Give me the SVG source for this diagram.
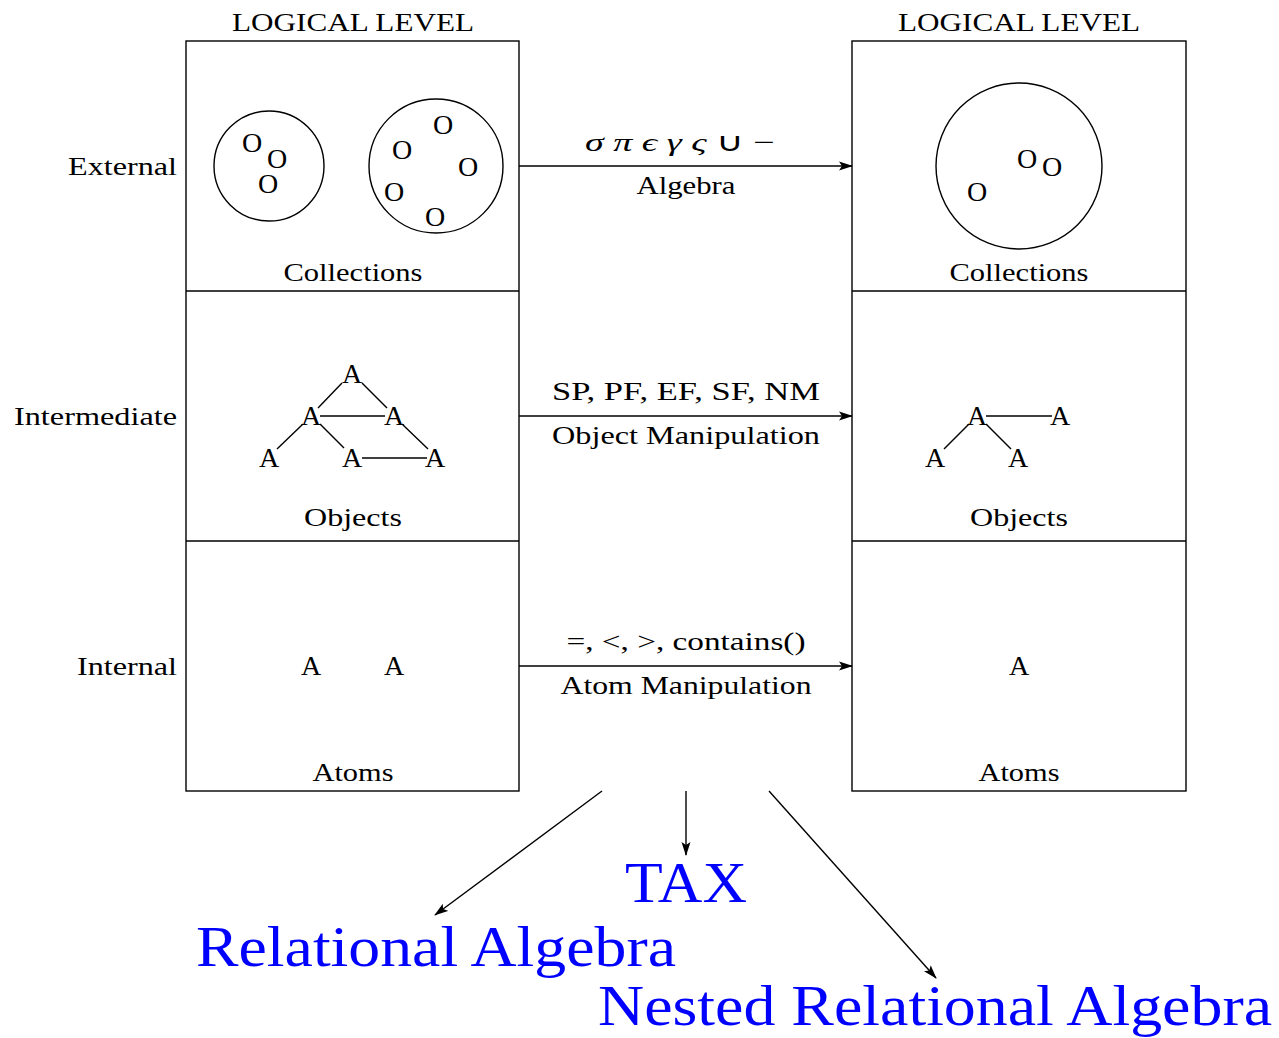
<svg xmlns="http://www.w3.org/2000/svg" width="1279" height="1038" viewBox="0 0 1279 1038">
<style>
  text { font-family: "Liberation Serif", "Times New Roman", serif; font-size: 26px; fill: #000; }
  .c { text-anchor: middle; }
  .r { text-anchor: end; }
  .g { font-size: 28px; text-anchor: middle; }
  .blue { fill: #0000ff; font-size: 58px; text-anchor: middle; }
  .box { fill: none; stroke: #000; stroke-width: 1.4; }
  .ln { stroke: #000; stroke-width: 1.4; fill: none; }
  .arr { stroke: #000; stroke-width: 1.4; fill: none; marker-end: url(#ah); }
</style>
<defs>
  <marker id="ah" viewBox="0 0 14 10" refX="13" refY="5" markerWidth="14" markerHeight="10" markerUnits="userSpaceOnUse" orient="auto">
    <path d="M0,0.5 L14,5 L0,9.5 L3,5 Z" fill="#000"/>
  </marker>
</defs>

<g id="row-labels">
  <text class="r" x="177" y="175" textLength="109" lengthAdjust="spacingAndGlyphs">External</text>
  <text class="r" x="177" y="425" textLength="163" lengthAdjust="spacingAndGlyphs">Intermediate</text>
  <text class="r" x="177" y="675" textLength="100" lengthAdjust="spacingAndGlyphs">Internal</text>
</g>

<g id="left-level">
  <text class="c" x="353" y="31" textLength="242" lengthAdjust="spacingAndGlyphs">LOGICAL LEVEL</text>
  <rect class="box" x="186" y="41" width="333" height="750"/>
  <line class="ln" x1="186" y1="291" x2="519" y2="291"/>
  <line class="ln" x1="186" y1="541" x2="519" y2="541"/>
</g>

<g id="left-collections">
  <circle class="ln" cx="269" cy="166" r="55"/>
  <text class="g" x="252" y="152">O</text>
  <text class="g" x="277" y="168">O</text>
  <text class="g" x="268" y="193">O</text>
  <circle class="ln" cx="436" cy="166" r="67"/>
  <text class="g" x="443" y="134">O</text>
  <text class="g" x="402" y="159">O</text>
  <text class="g" x="468" y="176">O</text>
  <text class="g" x="394" y="201">O</text>
  <text class="g" x="435" y="226">O</text>
  <text class="c" x="353" y="281" textLength="139" lengthAdjust="spacingAndGlyphs">Collections</text>
</g>

<g id="left-objects">
  <text class="g" x="352" y="383">A</text>
  <text class="g" x="311" y="425">A</text>
  <text class="g" x="394" y="425">A</text>
  <text class="g" x="269" y="467">A</text>
  <text class="g" x="352" y="467">A</text>
  <text class="g" x="435" y="467">A</text>
  <line class="ln" x1="342" y1="383" x2="318" y2="408"/>
  <line class="ln" x1="362" y1="383" x2="387" y2="408"/>
  <line class="ln" x1="320" y1="416" x2="385" y2="416"/>
  <line class="ln" x1="303" y1="424" x2="277" y2="449"/>
  <line class="ln" x1="320" y1="424" x2="344" y2="448"/>
  <line class="ln" x1="402" y1="424" x2="428" y2="449"/>
  <line class="ln" x1="362" y1="458" x2="427" y2="458"/>
  <text class="c" x="353" y="526" textLength="98" lengthAdjust="spacingAndGlyphs">Objects</text>
</g>

<g id="left-atoms">
  <text class="g" x="311" y="675">A</text>
  <text class="g" x="394" y="675">A</text>
  <text class="c" x="353" y="781" textLength="81" lengthAdjust="spacingAndGlyphs">Atoms</text>
</g>

<g id="right-level">
  <text class="c" x="1019" y="31" textLength="242" lengthAdjust="spacingAndGlyphs">LOGICAL LEVEL</text>
  <rect class="box" x="852" y="41" width="334" height="750"/>
  <line class="ln" x1="852" y1="291" x2="1186" y2="291"/>
  <line class="ln" x1="852" y1="541" x2="1186" y2="541"/>
</g>

<g id="right-collections">
  <circle class="ln" cx="1019" cy="166" r="83"/>
  <text class="g" x="1027" y="168">O</text>
  <text class="g" x="1052" y="176">O</text>
  <text class="g" x="977" y="201">O</text>
  <text class="c" x="1019" y="281" textLength="139" lengthAdjust="spacingAndGlyphs">Collections</text>
</g>

<g id="right-objects">
  <text class="g" x="977" y="425">A</text>
  <text class="g" x="1060" y="425">A</text>
  <text class="g" x="935" y="467">A</text>
  <text class="g" x="1018" y="467">A</text>
  <line class="ln" x1="986" y1="416" x2="1052" y2="416"/>
  <line class="ln" x1="969" y1="424" x2="944" y2="449"/>
  <line class="ln" x1="986" y1="424" x2="1011" y2="449"/>
  <text class="c" x="1019" y="526" textLength="98" lengthAdjust="spacingAndGlyphs">Objects</text>
</g>

<g id="right-atoms">
  <text class="g" x="1019" y="675">A</text>
  <text class="c" x="1019" y="781" textLength="81" lengthAdjust="spacingAndGlyphs">Atoms</text>
</g>

<g id="connectors">
  <line class="arr" x1="519" y1="166" x2="852" y2="166"/>
  <line class="arr" x1="519" y1="416" x2="852" y2="416"/>
  <line class="arr" x1="519" y1="666" x2="852" y2="666"/>
  <line class="arr" x1="602" y1="791" x2="435" y2="915"/>
  <line class="arr" x1="686" y1="791" x2="686" y2="855"/>
  <line class="arr" x1="769" y1="791" x2="936" y2="978"/>
</g>

<g id="connector-labels">
  <text class="c" x="680" y="151" font-style="italic" textLength="190" lengthAdjust="spacingAndGlyphs">σ  π  ϵ  γ  ς  <tspan font-style="normal">∪  −</tspan></text>
  <text class="c" x="686" y="194" textLength="99" lengthAdjust="spacingAndGlyphs">Algebra</text>
  <text class="c" x="686" y="400" textLength="268" lengthAdjust="spacingAndGlyphs">SP, PF, EF, SF, NM</text>
  <text class="c" x="686" y="444" textLength="268" lengthAdjust="spacingAndGlyphs">Object Manipulation</text>
  <text class="c" x="686" y="650" textLength="239" lengthAdjust="spacingAndGlyphs">=, &lt;, &gt;, contains()</text>
  <text class="c" x="686" y="694" textLength="251" lengthAdjust="spacingAndGlyphs">Atom Manipulation</text>
</g>

<g id="tax">
  <text class="blue" x="686" y="902" textLength="122" lengthAdjust="spacingAndGlyphs">TAX</text>
</g>
<g id="relational-algebra">
  <text class="blue" x="436" y="966" textLength="480" lengthAdjust="spacingAndGlyphs">Relational Algebra</text>
</g>
<g id="nested-relational-algebra">
  <text class="blue" x="935" y="1025" textLength="674" lengthAdjust="spacingAndGlyphs">Nested Relational Algebra</text>
</g>
</svg>
